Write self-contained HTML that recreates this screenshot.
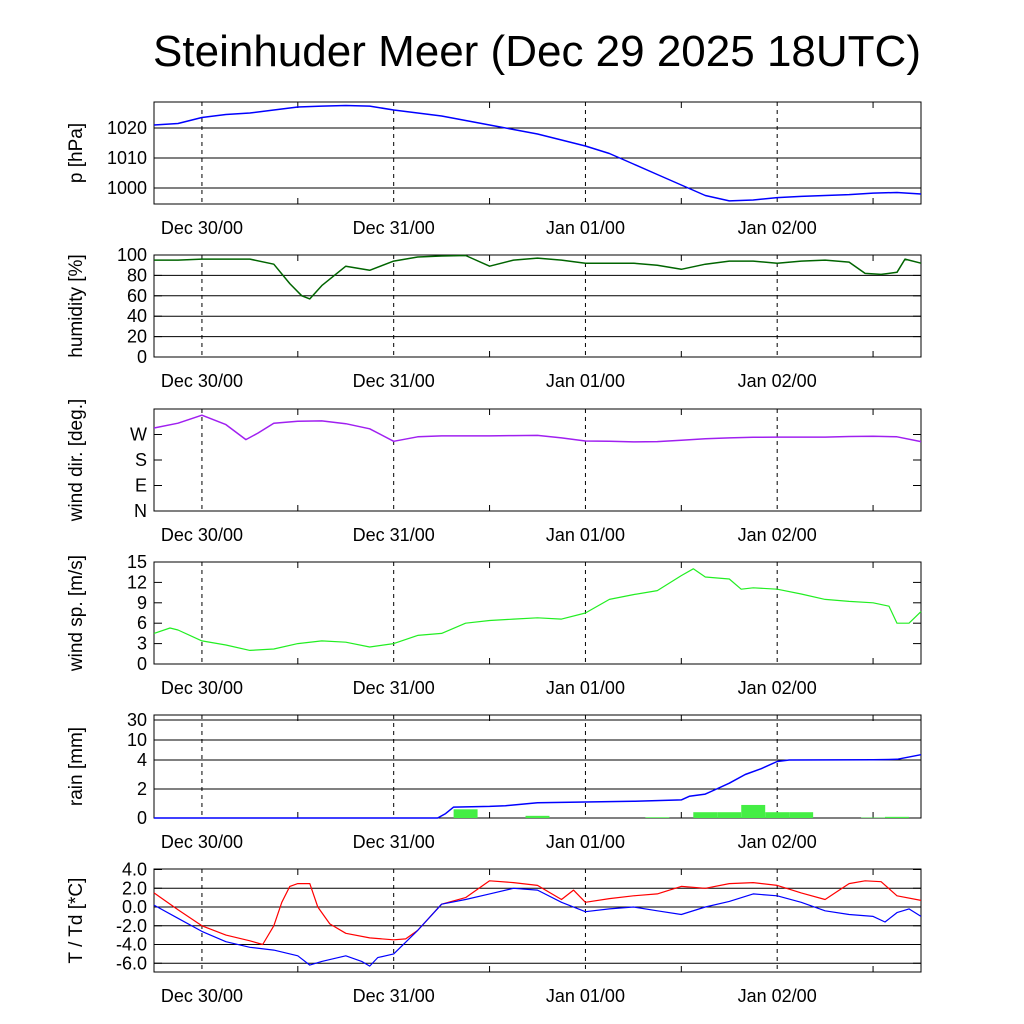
<!DOCTYPE html>
<html><head><meta charset="utf-8"><style>
html,body{margin:0;padding:0;background:#fff}
svg{display:block;font-family:"Liberation Sans",sans-serif}
</style></head><body>
<svg id="chart" width="1024" height="1024" viewBox="0 0 1024 1024">
<text x="537" y="66" font-size="44" text-anchor="middle">Steinhuder Meer (Dec 29 2025 18UTC)</text>
</svg>
<script>
// ---- data (hours since Dec 29 18UTC) ----
const dayLabels = ["Dec 30/00","Dec 31/00","Jan 01/00","Jan 02/00"];
const dayHours = [6,30,54,78];
const pTimes = [0,3,6,9,12,15,18,21,24,27,30,33,36,39,42,45,48,51,54,57,60,63,66,69,72,75,78,81,84,87,90,93,96];
const pVals = [1021,1021.5,1023.5,1024.5,1025,1026,1027,1027.3,1027.5,1027.3,1026,1025,1024,1022.5,1021,1019.5,1018,1016,1014,1011.5,1008,1004.5,1001,997.5,995.7,996,996.8,997.2,997.5,997.8,998.3,998.5,998];
const hTimes = [0,3,6,9,12,15,17,18.5,19.5,21,24,27,30,33,36,39,42,45,48,51,54,57,60,63,66,69,72,75,78,81,84,87,89,91,93,94,96];
const hVals = [95,95,96,96,96,91,72,60,57,70,89,85,94,98,99,99.5,89,95,97,95,92,92,92,90,86,91,94,94,92,94,95,93,82,81,83,96,92];
const wdTimes = [0,3,6,9,11.5,13,15,18,21,24,27,30,33,36,39,42,45,48,51,54,57,60,63,66,69,72,75,78,81,84,87,90,93,96];
const wdVals = [293,310,338,305,252,275,310,317,318,308,290,246,262,265,265,265,266,267,258,247,246,244,245,250,255,258,260,261,261,261,263,264,262,245];
const wsTimes = [0,2,3,6,9,12,15,18,21,24,27,30,33,36,39,42,45,48,51,54,57,60,63,66,67.5,69,72,73.5,75,78,81,84,87,90,92,93,94.5,96];
const wsVals = [4.5,5.3,5.0,3.4,2.8,2.0,2.2,3.0,3.4,3.2,2.5,3.0,4.2,4.5,6.0,6.4,6.6,6.8,6.6,7.5,9.5,10.2,10.8,13.0,14.0,12.8,12.5,11.0,11.2,11.0,10.3,9.5,9.2,9.0,8.5,6.0,6.0,7.7];
const rainTimes = [0,35.5,36.5,37.5,42,44,46,48,54,60,66,67,69,70,72,74,76,78,79.5,90,93,96];
const rainCum = [0,0,0.3,0.75,0.8,0.85,0.95,1.05,1.1,1.15,1.25,1.5,1.65,1.9,2.4,3.0,3.4,3.9,4.0,4.05,4.2,5.6];
const barStarts = [37.5,46.5,61.5,67.5,70.5,73.5,76.5,79.5,88.5,91.5];
const barVals = [0.6,0.15,0.05,0.4,0.4,0.9,0.4,0.4,0.03,0.08];
const tTimes = [0,3,6,9,12,13.6,15,16,17,18,19.5,20.5,22,24,27,30,31.5,33,36,39,42,45,48,51,52.5,54,57,60,63,66,69,72,75,78,81,84,87,89,91,93,96];
const tVals = [1.5,-0.3,-2.0,-3.0,-3.6,-4.0,-2.0,0.5,2.2,2.5,2.5,0.0,-1.8,-2.8,-3.3,-3.5,-3.4,-2.5,0.3,1.0,2.8,2.6,2.3,0.8,1.8,0.5,0.9,1.2,1.4,2.2,2.0,2.5,2.6,2.3,1.5,0.8,2.5,2.8,2.7,1.2,0.7];
const tdTimes = [0,3,6,9,12,15,18,19.5,21,24,26,27,28,30,33,36,39,42,45,48,51,54,57,60,63,66,69,72,75,78,81,84,87,90,91.5,93,94.5,96];
const tdVals = [0.2,-1.2,-2.6,-3.7,-4.3,-4.6,-5.2,-6.2,-5.8,-5.2,-5.8,-6.3,-5.4,-5.0,-2.5,0.3,0.8,1.4,2.0,1.8,0.5,-0.5,-0.2,0.0,-0.4,-0.8,0.0,0.6,1.4,1.2,0.5,-0.4,-0.8,-1.0,-1.6,-0.6,-0.2,-1.0];
const pTicks = [1000,1010,1020];
const hTicks = [0,20,40,60,80,100];
const wdTicks = [0,90,180,270];
const wdTickLabels = ["N","E","S","W"];
const wsTicks = [0,3,6,9,12,15];
const rainTicks = [0,2,4,10,30];
const tTicks = [-6,-4,-2,0,2,4];

// ---- layout ----
const NS="http://www.w3.org/2000/svg";
const svg=document.getElementById('chart');
const X0=154,X1=921,H0=0,H1=96;
const xs=h=>X0+(h-H0)*(X1-X0)/(H1-H0);
function el(tag,attrs,parent){const e=document.createElementNS(NS,tag);for(const k in attrs)e.setAttribute(k,attrs[k]);(parent||svg).appendChild(e);return e;}
function linScale(d0,d1,r0,r1){return v=>r0+(v-d0)*(r1-r0)/(d1-d0);}
const rainDom=[0,2,4,10,30,40], rainRng=[818,789,760,740,720,715];
function rainY(v){for(let i=0;i<rainDom.length-1;i++){if(v<=rainDom[i+1]){return rainRng[i]+(v-rainDom[i])*(rainRng[i+1]-rainRng[i])/(rainDom[i+1]-rainDom[i]);}}return 715;}

function panel(name,top,bot,ys,ticks,labels,grid,title,fmt){
  const g=el('g',{});
  
  
  if(grid){ticks.forEach(t=>{const y=ys(t);if(y>top+0.5&&y<bot-0.5){const l=el('line',{x1:X0,x2:X1,y1:y,y2:y,stroke:'#000','stroke-width':1},g);
    
    }});}
  dayHours.forEach(h=>{const l=el('line',{x1:xs(h),x2:xs(h),y1:top,y2:bot,stroke:'#000','stroke-width':1,'stroke-dasharray':'4,4'},g);
    
    });
  dayHours.forEach(h=>{const x=xs(h+12);if(x<X1){el('line',{x1:x,x2:x,y1:top,y2:top+6,stroke:'#000'},g);el('line',{x1:x,x2:x,y1:bot,y2:bot-6,stroke:'#000'},g);}});
  const r=el('rect',{x:X0,y:top,width:X1-X0,height:bot-top,fill:'none',stroke:'#000','stroke-width':1},g);
  
  
  ticks.forEach((t,i)=>{const y=ys(t);
    el('line',{x1:X0,x2:X0+8,y1:y,y2:y,stroke:'#000'},g);el('line',{x1:X1,x2:X1-8,y1:y,y2:y,stroke:'#000'},g);
    const tx=el('text',{x:147,y:y+6,'font-size':18,'text-anchor':'end'},g);
    
    
    tx.textContent=labels?labels[i]:(fmt?fmt(t):t);});
  dayHours.forEach((h,i)=>{const tx=el('text',{x:xs(h),y:bot+30,'font-size':18,'text-anchor':'middle'},g);
    
    
    tx.textContent=dayLabels[i];});
  const cy=(top+bot)/2;
  const tt=el('text',{x:82,y:cy,'font-size':19,'text-anchor':'middle',transform:`rotate(-90 82 ${cy})`},g);
  
  
  tt.textContent=title;
  return g;
}
function series(name,times,vals,ys,color,w){
  const d=times.map((t,i)=>(i?'L':'M')+xs(t).toFixed(1)+','+ys(vals[i]).toFixed(1)).join('');
  const p=el('path',{d:d,fill:'none',stroke:color,'stroke-width':w||1.5,'stroke-linejoin':'round'});
  
  
}

const pY=linScale(1000,1020,188,128);
panel('pressure',102,204,pY,pTicks,null,true,'p [hPa]');
series('pressure-line',pTimes,pVals,pY,'#0000ff');

const hY=linScale(0,100,357,255);
panel('humidity',255,357,hY,hTicks,null,true,'humidity [%]');
series('humidity-line',hTimes,hVals,hY,'#006400');

const wdY=linScale(0,360,511,409);
panel('wind-dir',409,511,wdY,wdTicks,wdTickLabels,false,'wind dir. [deg.]');
series('wind-dir-line',wdTimes,wdVals,wdY,'#a020f0');

const wsY=linScale(0,15,664,562);
panel('wind-speed',562,664,wsY,wsTicks,null,false,'wind sp. [m/s]');
series('wind-speed-line',wsTimes,wsVals,wsY,'#22ee22',1.2);

panel('rain',715,818,rainY,rainTicks,null,true,'rain [mm]');
barStarts.forEach((s,i)=>{const x=xs(s),w=xs(s+3)-x,y=rainY(barVals[i]);
  const b=el('rect',{x:x,y:y,width:w,height:818-y,fill:'#44ee44'});
  
  });
series('rain-accumulated-line',rainTimes,rainCum,rainY,'#0000ff');

const tY=linScale(0,4,907,869.5);
panel('temperature',869,972,tY,tTicks,null,true,'T / Td [*C]',v=>v.toFixed(1));
series('temperature-line',tTimes,tVals,tY,'#ff0000',1.2);
series('dewpoint-line',tdTimes,tdVals,tY,'#0000ff',1.2);
</script>
</body></html>
